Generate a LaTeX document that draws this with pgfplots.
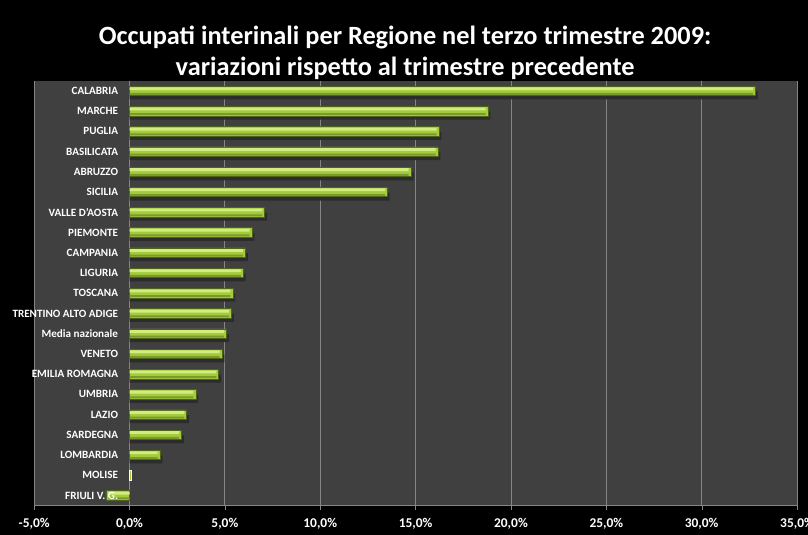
\documentclass[border=0pt]{standalone}
\usepackage{pgfplots}
\pgfplotsset{compat=1.18}
\usepackage{fontspec}
\setmainfont{Carlito}
\definecolor{plotbg}{HTML}{404040}
\definecolor{gridc}{HTML}{858585}
\definecolor{barfill}{HTML}{A4CB3E}
\definecolor{barhi}{HTML}{D3EC80}
\definecolor{barlow}{HTML}{7A9A2C}
\definecolor{baredge}{HTML}{4E6418}
\definecolor{shadowc}{HTML}{2C2C2C}
\begin{document}
\pagecolor{black}
\begin{tikzpicture}
\node[white,font=\fontsize{26.5}{31}\selectfont\bfseries,align=center] at (404bp,483bp)
 {Occupati interinali per Regione nel terzo trimestre 2009:\\variazioni rispetto al trimestre precedente};
\begin{axis}[
  set layers,
  at={(32bp,29bp)}, anchor=south west,
  scale only axis, width=765bp, height=426bp,
  xmin=-5, xmax=35, ymin=-0.5, ymax=20.5,
  y dir=reverse,
  axis background/.style={fill=plotbg},
  axis x line=bottom, axis y line=middle,
  axis line style={gridc,-},
  xtick={-5,0,...,35},
  xmajorgrids, major grid style={gridc, line width=0.8pt},
  tick align=outside,
  major tick length=4bp,
  x tick style={gridc},
  xticklabel={\pgfmathprintnumber[fixed,fixed zerofill,precision=1,use comma,assume math mode=true]{\tick}\%},
  xticklabel style={white,font=\fontsize{13.5}{15}\selectfont\bfseries,yshift=-5bp},
  ytick={0,...,20},
  yticklabels={CALABRIA,MARCHE,PUGLIA,BASILICATA,ABRUZZO,SICILIA,VALLE D'AOSTA,PIEMONTE,CAMPANIA,LIGURIA,TOSCANA,TRENTINO ALTO ADIGE,Media nazionale,VENETO,EMILIA ROMAGNA,UMBRIA,LAZIO,SARDEGNA,LOMBARDIA,MOLISE,FRIULI V. G.},
  yticklabel style={white,font=\fontsize{11.2}{12}\selectfont\bfseries,anchor=east,xshift=-4bp,/pgfplots/on layer=axis foreground},
  y tick style={draw=none},
  minor ytick={-0.5,0.5,...,20.5},
  minor tick length=5bp,
  minor y tick style={gridc},
]
\addplot[xbar, bar width=8bp, bar shift=-4.5bp, fill=shadowc, draw=none] coordinates {
(32.95,0) (18.92,1) (16.35,2) (16.30,3) (14.89,4) (13.64,5) (7.21,6) (6.55,7) (6.20,8) (6.09,9) (5.54,10) (5.47,11) (5.21,12) (4.98,13) (4.80,14) (3.60,15) (3.12,16) (2.85,17) (1.72,18)};
\addplot[xbar, bar width=9.5bp, bar shift=0pt, fill=barfill, draw=baredge, line width=0.6pt] coordinates {
(32.83,0) (18.80,1) (16.23,2) (16.18,3) (14.77,4) (13.52,5) (7.09,6) (6.43,7) (6.08,8) (5.97,9) (5.42,10) (5.35,11) (5.09,12) (4.86,13) (4.68,14) (3.48,15) (3.00,16) (2.73,17) (1.60,18) (-1.24,20)};
\addplot[xbar, bar width=2.8bp, bar shift=2.2bp, fill=barhi, draw=none] coordinates {
(32.70,0) (18.67,1) (16.10,2) (16.05,3) (14.64,4) (13.39,5) (6.96,6) (6.30,7) (5.95,8) (5.84,9) (5.29,10) (5.22,11) (4.96,12) (4.73,13) (4.55,14) (3.35,15) (2.87,16) (2.60,17) (1.47,18) (-1.11,20)};
\addplot[xbar, bar width=2bp, bar shift=-3bp, fill=barlow, draw=none] coordinates {
(32.70,0) (18.67,1) (16.10,2) (16.05,3) (14.64,4) (13.39,5) (6.96,6) (6.30,7) (5.95,8) (5.84,9) (5.29,10) (5.22,11) (4.96,12) (4.73,13) (4.55,14) (3.35,15) (2.87,16) (2.60,17) (1.47,18) (-1.11,20)};
\addplot[xbar, bar width=9.5bp, bar shift=0pt, fill=barfill, draw=white, line width=0.7pt] coordinates {(0.12,19)};
\end{axis}
\pgfresetboundingbox
\useasboundingbox (0,0) rectangle (808bp,536bp);
\end{tikzpicture}
\end{document}
